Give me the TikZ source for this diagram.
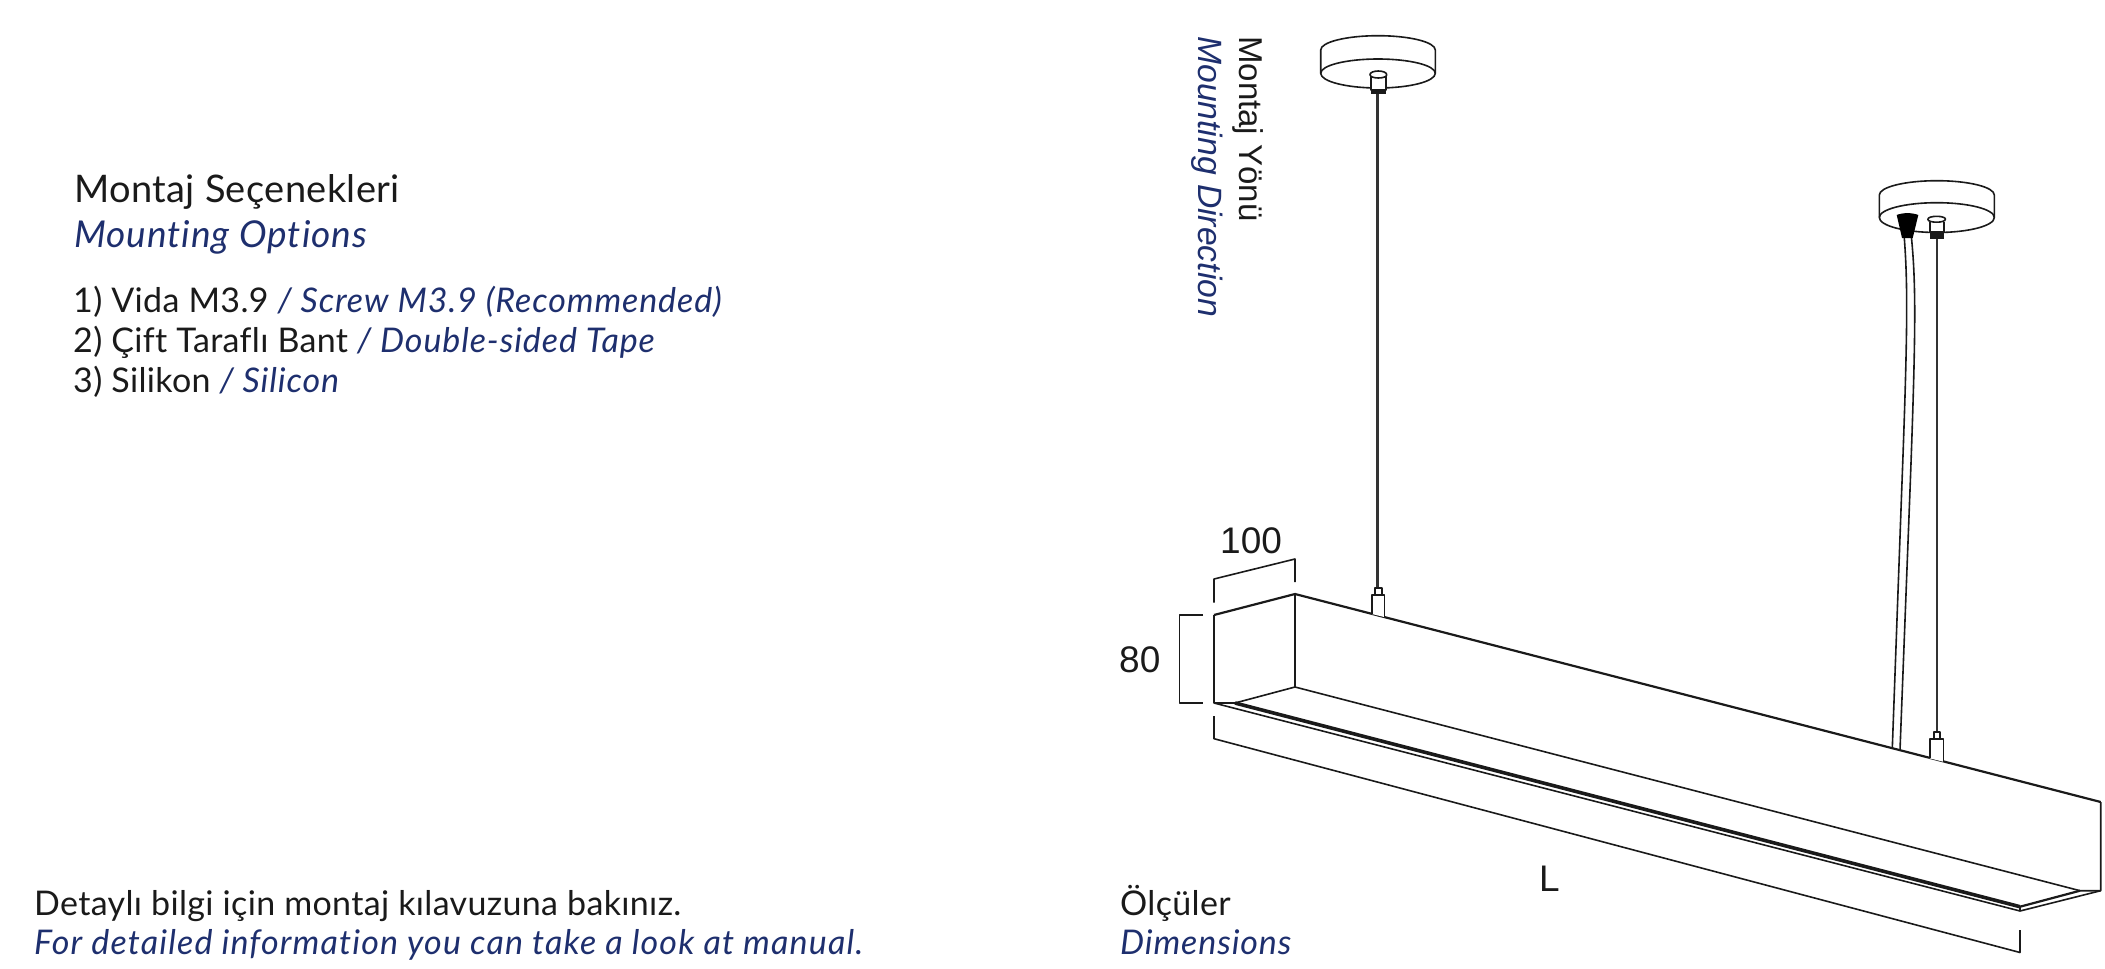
\documentclass[tikz,border=0pt]{standalone}
\usepackage{fontspec}
\setmainfont{Lato}[LetterSpace=1,Ligatures=CommonOff,ItalicFeatures={LetterSpace=2.6}]
\newfontfamily\helv{Liberation Sans}
\newfontfamily\latowide{Lato Italic}[LetterSpace=3.4,Ligatures=CommonOff]
\definecolor{navy}{HTML}{1E2F6E}
\definecolor{ink}{HTML}{1A1A1A}
\definecolor{cablec}{HTML}{333333}
\tikzset{
  txt/.style={inner sep=0pt,anchor=base west,text=ink,font=\fontsize{#1}{#1}\selectfont},
  txt/.default=34,
  en/.style={text=navy,font=\fontsize{#1}{#1}\selectfont\itshape},
  thin line/.style={line width=1.6pt,draw=ink,line join=round},
  mid line/.style={line width=2.2pt,draw=ink,line join=round},
  thick line/.style={line width=3.6pt,draw=ink},
  cable/.style={line width=3.2pt,draw=cablec},
  hfont/.style={font=\helv\fontsize{#1}{#1}\selectfont},
}
\begin{document}
\begin{tikzpicture}[x=1pt,y=-1pt]
\useasboundingbox (0,0) rectangle (2105,969);
% texts left
\node[txt=38] (t1) at (74,202) {Montaj Seçenekleri};
\node[txt=37,en=37] (t2) at (74,247) {Mounting Options};
\node[txt=34] (a1) at (73,312) {1) Vida M3.9 \textcolor{navy}{\itshape / Screw M3.9 (Recommended)}};
\node[txt=34] (a2) at (73,352) {2) Çift Taraflı Bant \textcolor{navy}{\itshape / Double-sided Tape}};
\node[txt=34] (a3) at (73,392) {3) Silikon \textcolor{navy}{\itshape / Silicon}};
\node[txt=34] (b1) at (34,915) {Detaylı bilgi için montaj kılavuzuna bakınız.};
\node[txt=34,text=navy,font=\latowide\fontsize{34}{34}\selectfont] (b2) at (34,954) {For detailed information you can take a look at manual.};
\node[txt=34] (c1) at (1120,915) {Ölçüler};
\node[txt=34,en=34] (c2) at (1120,954) {Dimensions};
\node[txt=32,hfont=33,rotate=-90] (r1) at (1239,36) {Montaj Yönü};
\node[txt=32,hfont=33.7,rotate=-90,text=navy] (r2) at (1198,36) {\itshape Mounting Direction};
\node[txt=32,hfont=37] (d100) at (1220,553) {100};
\node[txt=32,hfont=37] (d80) at (1119,672) {80};
\node[txt=32,hfont=37] (dL) at (1539,891) {L};
% fixture
\coordinate (ftl) at (1214,615);
\coordinate (fbl) at (1214,703);
\coordinate (btr) at (1295,594);
\coordinate (bbr) at (1295,687);
\coordinate (etop) at (2100.7,802);
\coordinate (ebot) at (2100.7,890.7);
\coordinate (einner) at (2080,890.7);
\coordinate (fslot) at (1235,703);
\coordinate (eslot) at (2020,906.7);
\coordinate (eout) at (2020,911);
\draw[thin line] (ftl) -- (fbl) -- (eout) -- (ebot) -- (etop);
\draw[mid line] (ftl) -- (btr) -- (etop);
\draw[thin line] (btr) -- (bbr) -- (einner) -- (ebot);
\draw[thin line] (fbl) -- (fslot) -- (bbr);
\draw[thick line] (fslot) -- (eslot);
\draw[mid line] (eslot) -- (einner);
\draw[thin line] (eslot) -- (eout);
% dims
\coordinate (da1) at (1214,602.7);\coordinate (da2) at (1214,579);\coordinate (da3) at (1295,559);\coordinate (da4) at (1295,582);
\draw[thin line] (da1)--(da2)--(da3)--(da4);
\coordinate (db1) at (1203,615);\coordinate (db2) at (1179.3,615);\coordinate (db3) at (1179.3,703);\coordinate (db4) at (1203,703);
\draw[thin line] (db1)--(db2)--(db3)--(db4);
\coordinate (dc1) at (1214,716);\coordinate (dc2) at (1214,738.7);\coordinate (dc3) at (2020,952.5);\coordinate (dc4) at (2020,930);
\draw[thin line] (dc1)--(dc2)--(dc3)--(dc4);
% pendant 1
\draw[thin line,fill=white] (1320.7,50) arc[start angle=180,end angle=360,x radius=57.3,y radius=14.3] -- (1435.3,73.3) arc[start angle=0,end angle=180,x radius=57.3,y radius=14.7] -- cycle;
\draw[thin line] (1320.7,73.3) arc[start angle=180,end angle=360,x radius=57.3,y radius=14.3];
\draw[cable] (1377.7,92) -- (1377.7,588);
\draw[thin line,fill=white] (1371,76) -- (1371,90) -- (1386,90) -- (1386,76);
\draw[thin line,fill=white] (1370,74.5) arc[start angle=180,end angle=360,x radius=8.3,y radius=3.5] -- (1386.7,75) arc[start angle=0,end angle=180,x radius=8.3,y radius=3] -- cycle;
\fill[ink] (1371,90) rectangle (1386,94);
\draw[thin line,fill=white] (1375,594.7) -- (1375,587.7) -- (1381.7,587.7) -- (1381.7,594.7);
\draw[thin line,fill=white] (1371.7,614) -- (1371.7,594.7) -- (1384.3,594.7) -- (1384.3,617);
% pendant 2
\draw[thin line,fill=white] (1879.3,195) arc[start angle=180,end angle=360,x radius=57.5,y radius=14.3] -- (1994.3,217.5) arc[start angle=0,end angle=180,x radius=57.5,y radius=15] -- cycle;
\draw[thin line] (1879.3,217.5) arc[start angle=180,end angle=360,x radius=57.5,y radius=14.8];
\draw[cable,line width=2.2pt] (1936.7,239) -- (1936.7,733);
\draw[thin line,fill=white] (1930,222) -- (1930,232) -- (1944,232) -- (1944,222);
\draw[thin line,fill=white] (1928,219) arc[start angle=180,end angle=360,x radius=8.7,y radius=2.7] -- (1945.3,219.5) arc[start angle=0,end angle=180,x radius=8.7,y radius=2.7] -- cycle;
\fill[ink] (1930,232) rectangle (1944,239);
\draw[thin line,fill=white] (1934,739) -- (1934,732) -- (1940,732) -- (1940,739);
\draw[thin line,fill=white] (1929.7,758.3) -- (1929.7,739) -- (1943.3,739) -- (1943.3,761.7);
% cord
\draw[thin line] (1904.3,238) .. controls (1907.8,285) and (1907.8,330) .. (1901.7,490) -- (1892.3,748);
\draw[thin line] (1911.5,238) .. controls (1916,285) and (1916,330) .. (1910,490) -- (1900,750);
\fill[black] (1896.7,215) .. controls (1903,212.5) and (1912,212.5) .. (1918.3,215) -- (1912.7,238) -- (1902,238) -- cycle;
\end{tikzpicture}
\end{document}
